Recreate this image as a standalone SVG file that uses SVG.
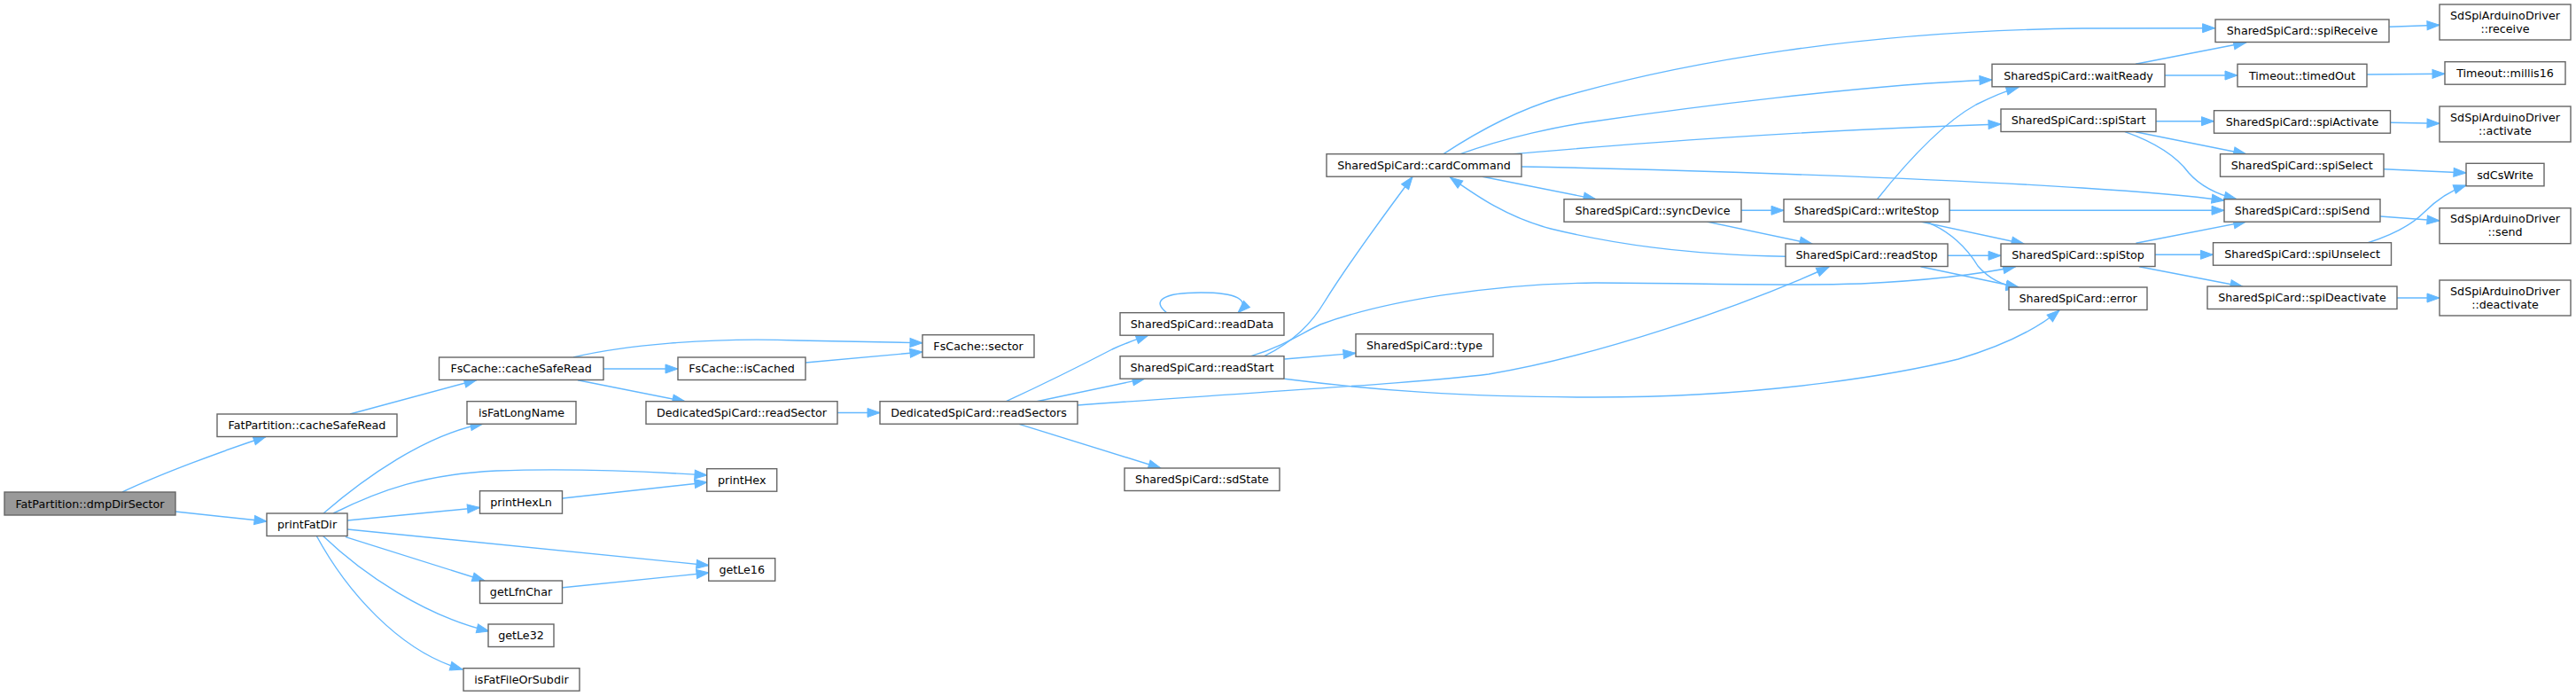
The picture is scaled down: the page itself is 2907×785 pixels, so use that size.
<svg xmlns="http://www.w3.org/2000/svg" width="2907" height="785" viewBox="0 0 2907 785">
<style>
.node rect{fill:#ffffff;stroke:#666666;stroke-width:1.4}
.node.root rect{fill:#999999}
.node text{font-family:"DejaVu Sans","Liberation Sans",sans-serif;font-size:12.7px;fill:#000000;text-anchor:middle}
.edges path{fill:none;stroke:#63b8ff;stroke-width:1.4;marker-end:url(#arr)}
</style>
<defs>
<marker id="arr" markerUnits="userSpaceOnUse" markerWidth="14" markerHeight="10" refX="14" refY="5" orient="auto" overflow="visible">
<path d="M0,0 L14,5 L0,10 z" fill="#63b8ff" stroke="#63b8ff" stroke-width="1"/>
</marker>
</defs>
<rect width="2907" height="785" fill="#ffffff"/>
<g class="edges" id="edges">
<path d="M138,555 C180,535 250,509 300,492.5"/>
<path d="M198,577 L301,588"/>
<path d="M395,467 L538,428.5"/>
<path d="M365,579 C410,540 480,490 545,478"/>
<path d="M376,579 C430,552 480,535 560,531 C640,528 720,531 798,536"/>
<path d="M392,587 L541.5,572.5"/>
<path d="M635,562 L798,544"/>
<path d="M392,597 L800,637.7"/>
<path d="M390,605.7 L547,655"/>
<path d="M635,662.7 L800,646"/>
<path d="M364,604 C410,648 480,695 552,712"/>
<path d="M357,604 C390,665 450,735 522,755"/>
<path d="M647,403 C700,390 800,380 900,384 C960,385 1000,386 1041,386.7"/>
<path d="M681,416 L765,416"/>
<path d="M652,428.7 L773,452.7"/>
<path d="M909,409 L1041,397"/>
<path d="M945,465.5 L993,465.5"/>
<path d="M1135.5,452.7 C1180,432 1230,407 1255,394 C1270,387 1285,382 1296,378"/>
<path d="M1170,452.7 L1292,427"/>
<path d="M1216,457 C1450,440 1600,432 1680,422 C1800,402 1960,348 2064,301"/>
<path d="M1150,478.3 L1310,528"/>
<path d="M1316.7,352.7 C1300,340 1310,330 1355,330 C1395,330 1412,338 1397,352.7"/>
<path d="M1426.7,401.7 C1460,385 1480,365 1495,340 C1520,300 1560,245 1594,199.5"/>
<path d="M1411.7,401.7 C1450,390 1470,375 1490,366 C1560,340 1680,320 1800,319 C1900,319 2000,323 2100,320 C2180,316 2240,308 2274.5,300.7"/>
<path d="M1449.4,405 L1530,398.3"/>
<path d="M1449.4,427.3 C1550,440 1650,448 1800,448 C2000,448 2150,420 2210,405 C2260,390 2300,370 2324,350"/>
<path d="M1629,173.7 C1680,140 1720,122 1760,110 C1900,70 2100,35 2350,32 C2420,31.5 2470,31.7 2499.6,31.7"/>
<path d="M1648,173.7 C1700,155 1760,142 1800,136.7 C1900,122 2100,96 2248,90"/>
<path d="M1707,173.7 C1800,166 2000,148 2258,140"/>
<path d="M1717,188 C1900,191 2200,202 2350,212 C2430,217 2480,222 2510,226"/>
<path d="M1673,199.3 L1801,224.7"/>
<path d="M1965,237.3 L2013,237.3"/>
<path d="M1926,250 L2045,275"/>
<path d="M2015,289.3 C1900,287 1820,275 1750,258 C1700,245 1665,220 1636.5,200"/>
<path d="M2118.4,224.7 C2150,185 2190,140 2230,118 C2250,108 2265,102 2278,98.3"/>
<path d="M2200,237.3 L2510,237.3"/>
<path d="M2167.4,250 L2284,275"/>
<path d="M2173,250 C2200,260 2220,280 2232,300 C2245,315 2260,322 2278,324.3"/>
<path d="M2198,288.3 L2258,288.3"/>
<path d="M2167.4,300.7 L2278,324"/>
<path d="M2410,72.3 L2534.7,48"/>
<path d="M2442.7,85 L2525,85"/>
<path d="M2671,84 L2759,83.3"/>
<path d="M2696.4,30.3 L2753,28.3"/>
<path d="M2433,136.7 L2498.5,136.7"/>
<path d="M2410,148.7 L2534.7,173.7"/>
<path d="M2398,148.7 C2430,160 2455,175 2470,195 C2485,212 2505,220 2524,224.7"/>
<path d="M2697.4,138.3 L2753,139.3"/>
<path d="M2690,190.7 L2783,195"/>
<path d="M2686,244 L2753,249"/>
<path d="M2410.4,274.3 L2534.7,250"/>
<path d="M2432,287.3 L2497.4,287.3"/>
<path d="M2414,300.7 L2531,323.3"/>
<path d="M2671.5,274 C2700,265 2720,255 2735,240 C2750,225 2765,215 2783,209"/>
<path d="M2705,336 L2753,336"/>
</g>
<g class="node root" id="n0"><rect x="5" y="555" width="193" height="26"/><text x="101.5" y="572.5">FatPartition::dmpDirSector</text></g>
<g class="node" id="n1"><rect x="245" y="467" width="203" height="25.5"/><text x="346.5" y="484.2">FatPartition::cacheSafeRead</text></g>
<g class="node" id="n2"><rect x="301" y="579" width="91" height="25.5"/><text x="346.5" y="596.2">printFatDir</text></g>
<g class="node" id="n3"><rect x="495.5" y="403" width="185.5" height="25.5"/><text x="588.2" y="420.2">FsCache::cacheSafeRead</text></g>
<g class="node" id="n4"><rect x="527" y="452.7" width="123" height="25.5"/><text x="588.5" y="469.9">isFatLongName</text></g>
<g class="node" id="n5"><rect x="541.5" y="553.7" width="93" height="25.5"/><text x="588" y="570.9">printHexLn</text></g>
<g class="node" id="n6"><rect x="541.5" y="655" width="93" height="25.5"/><text x="588" y="672.2">getLfnChar</text></g>
<g class="node" id="n7"><rect x="551" y="704" width="74" height="25.5"/><text x="588" y="721.2">getLe32</text></g>
<g class="node" id="n8"><rect x="523" y="753.7" width="131" height="25.5"/><text x="588.5" y="770.9">isFatFileOrSubdir</text></g>
<g class="node" id="n9"><rect x="765" y="403" width="144" height="25.5"/><text x="837" y="420.2">FsCache::isCached</text></g>
<g class="node" id="n10"><rect x="729" y="452.7" width="216" height="25.5"/><text x="837" y="469.9">DedicatedSpiCard::readSector</text></g>
<g class="node" id="n11"><rect x="797.7" y="528.7" width="79" height="25.5"/><text x="837.2" y="545.9">printHex</text></g>
<g class="node" id="n12"><rect x="799.7" y="629.7" width="75" height="25.5"/><text x="837.2" y="646.9">getLe16</text></g>
<g class="node" id="n13"><rect x="1041" y="377.7" width="126" height="25.5"/><text x="1104" y="394.9">FsCache::sector</text></g>
<g class="node" id="n14"><rect x="993" y="452.7" width="223" height="25.5"/><text x="1104.5" y="469.9">DedicatedSpiCard::readSectors</text></g>
<g class="node" id="n15"><rect x="1264" y="352.7" width="185" height="25.5"/><text x="1356.5" y="369.9">SharedSpiCard::readData</text></g>
<g class="node" id="n16"><rect x="1264" y="401.7" width="185" height="25.5"/><text x="1356.5" y="418.9">SharedSpiCard::readStart</text></g>
<g class="node" id="n17"><rect x="1269" y="528" width="175" height="25.5"/><text x="1356.5" y="545.2">SharedSpiCard::sdState</text></g>
<g class="node" id="n18"><rect x="1497" y="173.7" width="220" height="25.5"/><text x="1607" y="190.9">SharedSpiCard::cardCommand</text></g>
<g class="node" id="n19"><rect x="1530" y="376.7" width="155" height="25.5"/><text x="1607.5" y="393.9">SharedSpiCard::type</text></g>
<g class="node" id="n20"><rect x="1765" y="224.7" width="200" height="25.5"/><text x="1865" y="241.9">SharedSpiCard::syncDevice</text></g>
<g class="node" id="n21"><rect x="2013" y="224.7" width="187" height="25.5"/><text x="2106.5" y="241.9">SharedSpiCard::writeStop</text></g>
<g class="node" id="n22"><rect x="2015" y="275" width="183" height="25.5"/><text x="2106.5" y="292.2">SharedSpiCard::readStop</text></g>
<g class="node" id="n23"><rect x="2248" y="72.3" width="195" height="25.5"/><text x="2345.5" y="89.5">SharedSpiCard::waitReady</text></g>
<g class="node" id="n24"><rect x="2258" y="123" width="175" height="25.5"/><text x="2345.5" y="140.2">SharedSpiCard::spiStart</text></g>
<g class="node" id="n25"><rect x="2258" y="275" width="174" height="25.5"/><text x="2345" y="292.2">SharedSpiCard::spiStop</text></g>
<g class="node" id="n26"><rect x="2267" y="324" width="156" height="25.5"/><text x="2345" y="341.2">SharedSpiCard::error</text></g>
<g class="node" id="n27"><rect x="2500" y="22" width="196" height="25.5"/><text x="2598" y="39.2">SharedSpiCard::spiReceive</text></g>
<g class="node" id="n28"><rect x="2525" y="72.3" width="146" height="25.5"/><text x="2598" y="89.5">Timeout::timedOut</text></g>
<g class="node" id="n29"><rect x="2498.5" y="124.7" width="199" height="25.5"/><text x="2598" y="141.9">SharedSpiCard::spiActivate</text></g>
<g class="node" id="n30"><rect x="2505.5" y="173.7" width="184.5" height="25.5"/><text x="2597.7" y="190.9">SharedSpiCard::spiSelect</text></g>
<g class="node" id="n31"><rect x="2510" y="224.7" width="176" height="25.5"/><text x="2598" y="241.9">SharedSpiCard::spiSend</text></g>
<g class="node" id="n32"><rect x="2497.5" y="273.7" width="201" height="25.5"/><text x="2598" y="290.9">SharedSpiCard::spiUnselect</text></g>
<g class="node" id="n33"><rect x="2491" y="323" width="214" height="25.5"/><text x="2598" y="340.2">SharedSpiCard::spiDeactivate</text></g>
<g class="node" id="n34"><rect x="2753" y="5" width="148" height="40"/><text x="2827" y="21.5">SdSpiArduinoDriver</text><text x="2827" y="36.5">::receive</text></g>
<g class="node" id="n35"><rect x="2759" y="69.7" width="136" height="25.5"/><text x="2827" y="86.9">Timeout::millis16</text></g>
<g class="node" id="n36"><rect x="2753" y="120" width="148" height="40"/><text x="2827" y="136.5">SdSpiArduinoDriver</text><text x="2827" y="151.5">::activate</text></g>
<g class="node" id="n37"><rect x="2783" y="184.3" width="88" height="25.5"/><text x="2827" y="201.5">sdCsWrite</text></g>
<g class="node" id="n38"><rect x="2753" y="234.7" width="148" height="40"/><text x="2827" y="251.2">SdSpiArduinoDriver</text><text x="2827" y="266.2">::send</text></g>
<g class="node" id="n39"><rect x="2753" y="316" width="148" height="40"/><text x="2827" y="332.5">SdSpiArduinoDriver</text><text x="2827" y="347.5">::deactivate</text></g>
</svg>
